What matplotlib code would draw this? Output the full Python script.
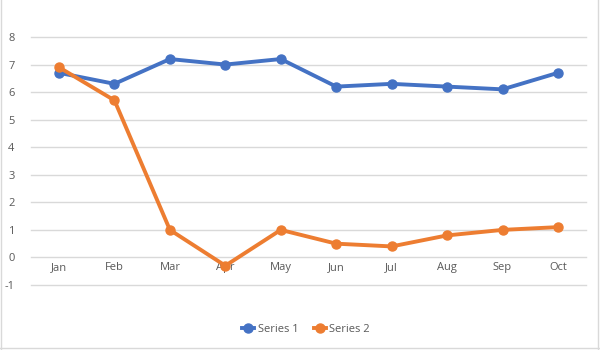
import matplotlib.pyplot as plt
from matplotlib.lines import Line2D

months = ["Jan", "Feb", "Mar", "Apr", "May", "Jun", "Jul", "Aug", "Sep", "Oct"]
series1 = [6.7, 6.3, 7.2, 7.0, 7.2, 6.2, 6.3, 6.2, 6.1, 6.7]
series2 = [6.9, 5.7, 1.0, -0.3, 1.0, 0.5, 0.4, 0.8, 1.0, 1.1]

BLUE = "#4472C4"
ORANGE = "#ED7D31"
GRID = "#D9D9D9"
TEXT = "#595959"

plt.rcParams["font.family"] = ["Open Sans", "DejaVu Sans"]
plt.rcParams["axes.unicode_minus"] = False

fig = plt.figure(figsize=(6, 3.5), dpi=100)
ax = fig.add_axes([31.3 / 600, 1 - 285 / 350, (585.7 - 31.3) / 600, (285 - 37) / 350])

x = list(range(len(months)))
ax.plot(x, series1, color=BLUE, lw=2.8, marker="o", ms=6.5, label="Series 1",
        solid_capstyle="round", zorder=3)
ax.plot(x, series2, color=ORANGE, lw=2.8, marker="o", ms=6.5, label="Series 2",
        solid_capstyle="round", zorder=4)

ax.set_xlim(-0.5, len(months) - 0.5)
ax.set_ylim(-1, 8)
ax.set_yticks(range(-1, 9))
ax.grid(axis="y", color=GRID, lw=1, clip_on=False)
for gl in ax.get_ygridlines():
    gl.set_clip_on(False)
ax.set_axisbelow(True)
for s in ax.spines.values():
    s.set_visible(False)
ax.tick_params(length=0, colors=TEXT, labelsize=8)
ax.tick_params(axis="y", pad=12)
ax.set_xticks([])

# category labels sit just under the zero line
for i, m in enumerate(months):
    ax.text(i, -0.38, m, ha="center", va="center", color=TEXT, fontsize=8)

handles = [Line2D([], [], color=BLUE, lw=2.8, marker="o", ms=6.5),
           Line2D([], [], color=ORANGE, lw=2.8, marker="o", ms=6.5)]
fig.legend(handles, ["Series 1", "Series 2"], loc="center", bbox_to_anchor=(0.51, 1 - 329 / 350),
           ncol=2, frameon=False, fontsize=8, labelcolor=TEXT, handlelength=1.1,
           handletextpad=0.3, columnspacing=1.4)

# chart area border
for xs, ys in [([0.5 / 600, 0.5 / 600], [0, 1]), ([597.5 / 600, 597.5 / 600], [0, 1]),
               ([0, 1], [2 / 350, 2 / 350])]:
    fig.add_artist(Line2D(xs, ys, color=GRID, lw=1, transform=fig.transFigure))

fig.savefig("out.png", dpi=100, facecolor="white")
